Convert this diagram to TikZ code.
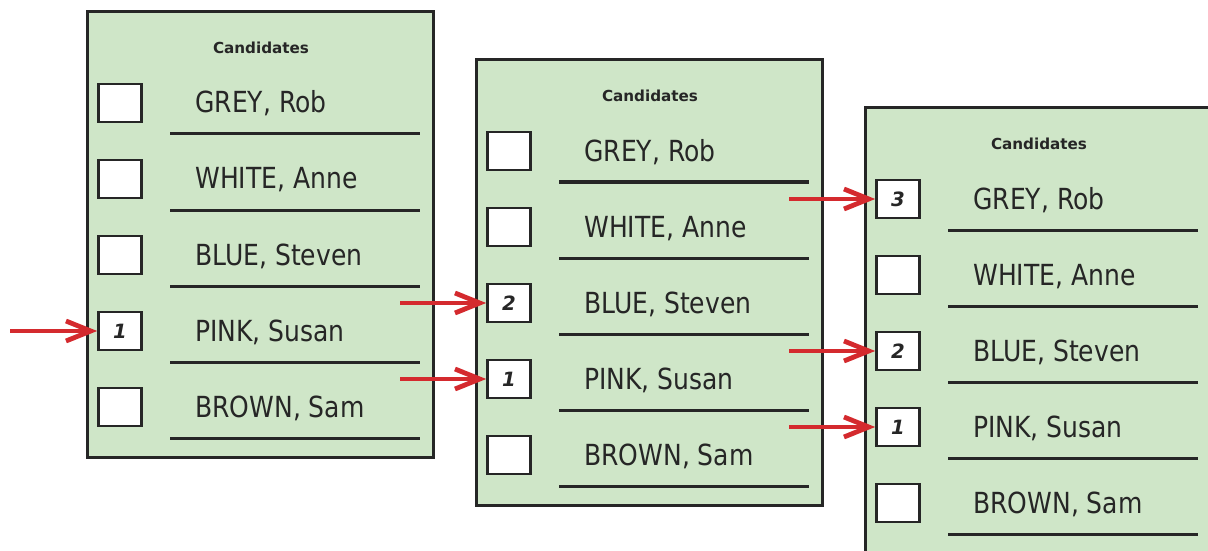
\documentclass[tikz,border=0pt]{standalone}
\usepackage{fontspec}
\setmainfont{DejaVu Sans}
\usetikzlibrary{arrows.meta}

\definecolor{ballotgreen}{HTML}{CFE6C8}
\definecolor{votered}{HTML}{D42A2E}

\tikzset{
    ballot/.style={draw=black!85, line width=0.075cm, fill=ballotgreen},
    heading/.style={font=\bfseries\fontsize{10.8}{13}\selectfont, text=black!85},
    votebox/.style={draw=black!85, line width=0.06cm, fill=white,
        minimum width=1.08cm, minimum height=0.94cm, inner sep=0pt},
    cand/.style={anchor=base west, inner sep=0pt, text=black!85,
        font=\fontsize{17.8}{20}\selectfont},
    rule/.style={draw=black!85, line width=0.075cm},
    prefmark/.style={font=\bfseries\itshape\fontsize{14}{16}\selectfont, text=black!85},
    vote/.style={draw=votered, line width=0.1cm,
        -{Straight Barb[length=0.62cm, width=0.5cm, line width=0.12cm]}}
}

\begin{document}
\begin{tikzpicture}[x=0.025cm, y=-0.025cm]
    \clip (0,0) rectangle (1208,551);
    % three copies of the ballot paper, each moved down and right
    \foreach \b/\dx/\dy in {1/0/0, 2/389/48, 3/778/96} {
        \begin{scope}[shift={(\dx,\dy)}]
            \draw[ballot] (87,12) rectangle (433,457);
            \node[heading] (b\b head) at (261,48) {Candidates};
            \foreach \name [count=\r] in {{GREY, Rob},{WHITE, Anne},{BLUE, Steven},{PINK, Susan},{BROWN, Sam}} {
                \node[votebox] (b\b box\r) at (120,27+76*\r) {};
                \node[cand] (b\b name\r) at (195,37+76*\r) {\scalebox{1}[1.16]{\name}};
                \draw[rule] (170,58+76*\r) -- (420,58+76*\r);
            }
        \end{scope}
    }

    % preferences written in the boxes
    \node[prefmark] at (b1box4) {1};
    \node[prefmark] at (b2box3) {2};
    \node[prefmark] at (b2box4) {1};
    \node[prefmark] at (b3box1) {3};
    \node[prefmark] at (b3box3) {2};
    \node[prefmark] at (b3box4) {1};

    % arrows pointing at the marked boxes
    \coordinate (s1) at (10,331);
    \coordinate (s2) at (400,303);
    \coordinate (s3) at (400,379);
    \coordinate (s4) at (789,199);
    \coordinate (s5) at (789,351);
    \coordinate (s6) at (789,427);
    \draw[vote] (s1) -- (b1box4.west);
    \draw[vote] (s2) -- (b2box3.west);
    \draw[vote] (s3) -- (b2box4.west);
    \draw[vote] (s4) -- (b3box1.west);
    \draw[vote] (s5) -- (b3box3.west);
    \draw[vote] (s6) -- (b3box4.west);
\end{tikzpicture}
\end{document}
